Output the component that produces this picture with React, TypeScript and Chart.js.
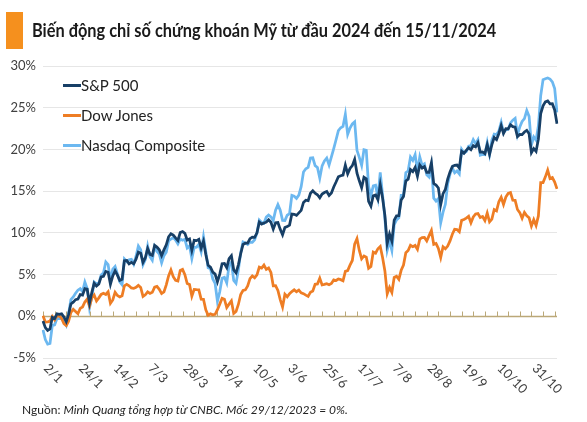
import React, { useEffect, useRef } from "react";
import { Chart, registerables } from "chart.js";

Chart.register(...registerables);

// NYSE holidays between 2 Jan and 15 Nov 2024 (trading calendar used for categories)
const HOLIDAYS = ["2024-01-15", "2024-02-19", "2024-03-29", "2024-05-27", "2024-06-19", "2024-07-04", "2024-09-02"];
const START_DATE = "2024-01-02";
const END_DATE = "2024-11-15";

// Labels shown on the x axis
const TICK_LABELS = ["2/1", "24/1", "14/2", "7/3", "28/3", "19/4", "10/5", "3/6", "25/6", "17/7", "7/8", "28/8", "19/9", "10/10", "31/10"];

// % change since 29/12/2023 — S&P 500 (daily, by month)
const SP500 = [
  -0.57, -1.36, -1.70, -1.52, -0.13, -0.28, 0.29, 0.22, 0.29, -0.08, -0.64, 0.23, 1.47, 1.69, 1.99, 2.07, 2.61, 2.54, 3.31, 3.25, 1.59,
  2.86, 3.96, 3.63, 3.87, 4.72, 4.78, 5.38, 5.28, 3.84, 4.84, 5.45, 4.94, 4.31, 4.44, 6.65, 6.69, 6.28, 6.46, 6.29, 6.84,
  7.70, 7.57, 6.47, 7.02, 8.12, 7.42, 7.30, 8.50, 8.29, 7.98, 7.28, 7.96, 8.57, 9.53, 9.89, 9.74, 9.40, 9.09, 10.04, 10.16,
  9.94, 9.14, 9.26, 7.91, 9.11, 9.07, 9.23, 8.19, 9.00, 7.41, 6.12, 5.90, 5.29, 5.06, 4.14, 5.05, 6.30, 6.33, 5.84, 6.92, 7.26, 5.57,
  5.21, 6.17, 7.50, 8.61, 8.76, 8.76, 9.31, 9.49, 9.47, 10.00, 11.29, 11.05, 11.18, 11.28, 11.56, 11.26, 10.44, 11.21, 11.24, 10.42, 9.76, 10.64,
  10.77, 10.93, 12.25, 12.22, 12.10, 12.39, 12.69, 13.65, 13.92, 13.87, 14.75, 15.04, 14.75, 14.57, 14.21, 14.66, 14.84, 14.95, 14.48,
  14.79, 15.50, 16.09, 16.72, 16.84, 16.92, 18.12, 17.08, 17.73, 18.06, 18.81, 17.16, 16.24, 15.41, 16.66, 16.48, 13.78, 13.20, 14.45, 14.54, 13.98, 15.77,
  14.19, 12.09, 8.73, 9.86, 9.01, 11.52, 12.04, 12.05, 13.93, 14.37, 16.21, 16.44, 17.58, 17.34, 17.84, 16.79, 18.13, 17.76, 17.95, 17.24, 17.24, 18.42,
  15.91, 15.73, 15.38, 13.39, 14.70, 15.21, 16.44, 17.31, 17.95, 18.10, 18.13, 17.79, 19.79, 19.55, 19.89, 20.19, 19.97, 20.45, 20.30, 20.81,
  19.68, 19.70, 19.50, 20.57, 19.41, 20.57, 21.43, 21.18, 21.91, 22.85, 21.92, 22.49, 22.47, 22.95, 22.73, 22.67, 21.54, 21.80, 21.77, 22.09, 22.29, 21.88, 19.61,
  20.10, 19.77, 21.23, 24.30, 25.23, 25.70, 25.82, 25.46, 25.48, 24.73, 23.08,
];

// % change — Dow Jones
const DOW = [
  0.07, -0.69, -0.66, -0.59, -0.02, -0.44, 0.02, 0.06, -0.26, -0.87, -1.12, -0.59, 0.46, 0.83, 0.57, 0.31, 0.95, 1.12, 1.71, 2.06, 1.22,
  2.20, 2.56, 1.83, 2.21, 2.62, 2.75, 2.61, 2.94, 1.55, 1.95, 2.88, 2.49, 2.32, 2.45, 3.66, 3.83, 3.66, 3.40, 3.34, 3.47,
  3.71, 3.45, 2.38, 2.58, 2.92, 2.74, 2.87, 3.49, 3.59, 3.23, 2.72, 2.92, 3.77, 4.84, 5.55, 4.74, 4.31, 4.23, 5.49, 5.62,
  4.98, 3.93, 3.81, 2.41, 3.22, 3.19, 3.17, 2.05, 2.04, 0.78, 0.12, 0.29, 0.17, 0.23, 0.79, 1.46, 2.16, 2.05, 1.05, 1.46, 1.85, 0.34,
  0.57, 1.42, 2.62, 3.09, 3.17, 3.63, 4.51, 4.84, 4.62, 4.96, 5.89, 5.78, 6.14, 5.62, 5.79, 5.26, 3.65, 3.66, 3.09, 2.00, 1.12, 2.65,
  2.34, 2.71, 2.96, 3.17, 2.94, 3.13, 2.81, 2.71, 2.54, 2.39, 2.89, 3.04, 3.83, 3.88, 4.57, 3.77, 3.82, 3.91, 3.79,
  3.93, 4.36, 4.29, 4.47, 4.39, 4.25, 5.39, 5.48, 6.13, 6.69, 8.66, 9.31, 7.89, 6.89, 7.23, 7.08, 5.74, 5.96, 7.69, 7.56, 8.10, 8.37,
  7.05, 5.43, 2.69, 3.47, 2.85, 4.66, 4.80, 4.43, 5.51, 6.15, 7.62, 7.88, 8.51, 8.34, 8.49, 8.02, 9.25, 9.42, 9.45, 9.03, 9.67, 10.28,
  8.62, 8.72, 8.14, 7.05, 8.33, 8.08, 8.42, 9.04, 9.83, 10.43, 10.39, 10.12, 11.50, 11.60, 11.77, 11.99, 11.21, 11.90, 12.27, 12.31,
  11.85, 11.96, 11.47, 12.37, 11.32, 11.65, 12.80, 12.64, 13.73, 14.26, 13.40, 14.30, 14.72, 14.82, 13.91, 13.89, 12.80, 12.43, 11.74, 12.46, 12.05, 11.81, 10.81,
  11.58, 10.89, 12.03, 16.03, 16.03, 16.71, 17.52, 16.51, 16.63, 16.08, 15.27,
];

// % change — Nasdaq Composite
const NASDAQ = [
  -1.63, -2.79, -3.34, -3.25, -1.12, -1.02, -0.28, -0.27, -0.26, -0.45, -1.04, 0.30, 2.00, 2.32, 2.76, 3.13, 3.32, 2.96, 4.11, 3.32, 1.02,
  2.33, 4.11, 3.90, 3.98, 4.96, 5.21, 6.52, 6.20, 4.29, 5.65, 5.96, 5.09, 4.13, 3.79, 6.86, 6.56, 6.77, 6.82, 6.24, 7.20,
  8.42, 7.97, 6.18, 6.79, 8.41, 7.15, 6.71, 8.35, 7.77, 7.44, 6.41, 7.27, 7.69, 9.04, 9.26, 9.44, 9.15, 8.69, 9.25, 9.11,
  9.23, 8.19, 8.43, 6.91, 8.24, 8.28, 8.63, 7.72, 9.53, 7.75, 5.82, 5.69, 4.48, 3.93, 1.80, 2.93, 4.57, 4.67, 4.00, 6.11, 6.47, 4.31,
  3.96, 5.53, 7.63, 8.91, 8.80, 8.60, 8.89, 8.86, 9.17, 9.99, 11.53, 11.24, 11.15, 11.88, 12.13, 11.92, 11.49, 12.72, 13.38, 12.72, 11.50, 11.48,
  12.11, 12.29, 14.50, 14.40, 14.13, 14.53, 15.54, 17.30, 17.69, 17.84, 18.96, 18.99, 18.05, 17.84, 16.56, 18.03, 18.61, 18.97, 18.13,
  19.10, 20.10, 21.16, 22.26, 22.60, 22.77, 24.22, 21.80, 22.56, 23.06, 23.30, 19.89, 19.05, 18.09, 19.96, 19.89, 15.53, 14.46, 15.63, 15.71, 14.23, 17.24,
  14.54, 11.76, 7.92, 9.03, 7.89, 10.98, 11.55, 11.79, 14.50, 14.53, 17.21, 17.45, 19.09, 18.69, 19.37, 17.37, 19.09, 18.08, 18.27, 16.95, 16.69, 18.00,
  14.16, 13.81, 14.10, 11.19, 12.48, 13.42, 15.88, 17.04, 17.80, 17.19, 17.43, 17.07, 20.00, 19.56, 19.74, 20.40, 20.46, 21.18, 20.70, 21.17,
  19.31, 19.41, 19.36, 20.83, 19.40, 21.13, 21.85, 21.79, 22.19, 23.26, 22.01, 22.35, 22.40, 23.17, 23.51, 23.73, 21.75, 22.68, 23.36, 23.69, 24.66, 23.96, 20.54,
  21.51, 21.11, 22.83, 26.46, 28.36, 28.48, 28.56, 28.44, 28.10, 27.29, 24.44,
];

const SERIES_NAMES = ["S&P 500", "Dow Jones", "Nasdaq Composite"];
const COLORS = ["#173f66", "#ee7d24", "#6cb8f0"];

function tradingDays(): string[] {
  const out: string[] = [];
  const d = new Date(START_DATE + "T00:00:00Z");
  const end = new Date(END_DATE + "T00:00:00Z");
  while (d <= end) {
    const iso = d.toISOString().slice(0, 10);
    const wd = d.getUTCDay();
    if (wd !== 0 && wd !== 6 && !HOLIDAYS.includes(iso)) {
      out.push(`${d.getUTCDate()}/${d.getUTCMonth() + 1}`);
    }
    d.setUTCDate(d.getUTCDate() + 1);
  }
  return out;
}

const FONT = "Lato, 'Noto Sans', sans-serif";

const decorPlugin = {
  id: "decor",
  beforeDatasetsDraw(chart: any) {
    const { ctx, chartArea, scales } = chart;
    const x = scales.x;
    const y = scales.y;
    const y0 = Math.round(y.getPixelForValue(0)) + 0.5;
    const n = chart.data.labels.length;
    ctx.save();
    ctx.strokeStyle = "#bba878";
    ctx.lineWidth = 1.5;
    ctx.beginPath();
    ctx.moveTo(chartArea.left, y0);
    ctx.lineTo(chartArea.right, y0);
    ctx.stroke();
    ctx.lineWidth = 1;
    ctx.beginPath();
    for (let i = 0; i < n; i += 5) {
      const px = Math.round(x.getPixelForValue(i)) + 0.5;
      ctx.moveTo(px, y0);
      ctx.lineTo(px, y0 - 5);
    }
    ctx.stroke();
    ctx.restore();
  },
  afterDraw(chart: any) {
    const { ctx, scales } = chart;
    const x = scales.x;
    const labels: string[] = chart.data.labels;
    ctx.save();
    ctx.fillStyle = "#404040";
    ctx.font = `13px ${FONT}`;
    ctx.textAlign = "left";
    ctx.textBaseline = "middle";
    labels.forEach((lab, i) => {
      if (!TICK_LABELS.includes(lab)) return;
      const px = x.getPixelForValue(i);
      ctx.save();
      ctx.translate(px + 3, 366);
      ctx.rotate(Math.PI / 4);
      ctx.fillText(lab, 0, 0);
      ctx.restore();
    });
    ctx.restore();
  },
};

export default function App() {
  const ref = useRef<HTMLCanvasElement>(null);

  useEffect(() => {
    const labels = tradingDays();
    const chart = new Chart(ref.current!, {
      type: "line",
      data: {
        labels,
        datasets: [
          { label: SERIES_NAMES[0], data: SP500, borderColor: COLORS[0], backgroundColor: COLORS[0] },
          { label: SERIES_NAMES[1], data: DOW, borderColor: COLORS[1], backgroundColor: COLORS[1] },
          { label: SERIES_NAMES[2], data: NASDAQ, borderColor: COLORS[2], backgroundColor: COLORS[2] },
        ].map((d) => ({ ...d, borderWidth: 2.75, pointRadius: 0, tension: 0, fill: false })),
      },
      options: {
        responsive: false,
        animation: false,
        devicePixelRatio: 1,
        layout: { padding: { left: 0, top: 66, right: 30, bottom: 64 } },
        plugins: { legend: { display: false }, tooltip: { enabled: false } },
        scales: {
          x: {
            type: "category",
            grid: { display: false, drawTicks: false },
            border: { display: false },
            ticks: { display: false },
            afterFit: (s: any) => { s.height = 0; },
          },
          y: {
            min: -5,
            max: 30,
            ticks: {
              stepSize: 5,
              padding: 7,
              color: "#404040",
              font: { family: FONT, size: 13 },
              callback: (v: any) => `${v}%`,
            },
            grid: { color: "#e6e6e6", drawTicks: false, lineWidth: 1 },
            border: { display: false },
            afterFit: (s: any) => { s.width = 43; },
          },
        },
      },
      plugins: [decorPlugin],
    });
    return () => chart.destroy();
  }, []);

  return (
    <div style={{ position: "fixed", left: 0, top: 0, width: 587, height: 422, background: "#fff", fontFamily: FONT, color: "#1a1a1a" }}>
      <canvas ref={ref} width={587} height={422} style={{ position: "absolute", left: 0, top: 0 }} />
      <div style={{ position: "absolute", left: 6, top: 12, width: 17, height: 37, background: "#f5901e" }} />
      <div style={{ position: "absolute", left: 32, top: 18, fontSize: 19, lineHeight: "24px", fontWeight: 700, whiteSpace: "nowrap", transform: "scaleX(0.86)", transformOrigin: "left center" }}>
        Biến động chỉ số chứng khoán Mỹ từ đầu 2024 đến 15/11/2024
      </div>
      {SERIES_NAMES.map((name, i) => (
        <div key={name} style={{ position: "absolute", left: 63, top: 76 + i * 30, height: 18, display: "flex", alignItems: "center", whiteSpace: "nowrap" }}>
          <span style={{ display: "inline-block", width: 18, height: 3, background: COLORS[i] }} />
          <span style={{ fontSize: 15, lineHeight: "18px", color: "#222" }}>{name}</span>
        </div>
      ))}
      <div style={{ position: "absolute", left: 22, top: 402, fontSize: 12, lineHeight: "16px", color: "#222", whiteSpace: "nowrap" }}>
        Nguồn: <i>Minh Quang tổng hợp từ CNBC. Mốc 29/12/2023 = 0%.</i>
      </div>
    </div>
  );
}
